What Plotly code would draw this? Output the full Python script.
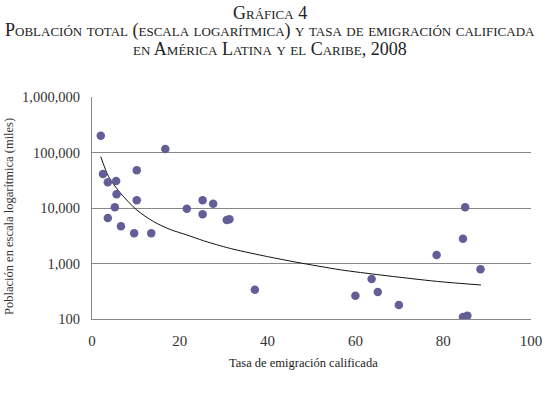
import plotly.graph_objects as go

# Tasa de emigración calificada (%) y población total (miles)
tasa = [2.0, 16.7, 2.5, 3.6, 5.5, 10.2, 5.6, 10.2, 5.2, 21.6, 25.2, 27.6, 25.2, 3.6,
        6.6, 9.6, 13.5, 30.7, 31.3, 37.1, 85.0, 84.5, 78.5, 88.5, 63.7, 60.0, 65.1,
        69.9, 84.5, 85.5]
poblacion = [201000, 116000, 41000, 29000, 30600, 47700, 17700, 13800, 10300, 9700,
             13800, 11900, 7700, 6600, 4700, 3500, 3500, 6100, 6300, 337, 10300, 2800,
             1420, 787, 525, 263, 306, 178, 109, 115]

# Línea de tendencia
tend_x = [2.0, 3.8, 6.4, 10.2, 14.0, 17.8, 21.6, 25.4, 29.2, 32.3, 40.0, 46.7, 56.6,
          65.8, 78.7, 88.6]
tend_y = [84000, 36600, 18900, 9200, 5700, 4100, 3270, 2570, 2090, 1800, 1330, 1050,
          770, 620, 475, 410]

y_ticks = [100, 1000, 10000, 100000, 1000000]
y_tick_text = ["100", "1,000", "10,000", "100,000", "1,000,000"]
x_ticks = [0, 20, 40, 60, 80, 100]

title_lines = ["Gráfica 4",
               "Población total (escala logarítmica) y tasa de emigración calificada",
               "en América Latina y el Caribe, 2008"]
x_title = "Tasa de emigración calificada"
y_title = "Población en escala logarítmica (miles)"

serif = "Liberation Serif"
W, H = 547, 397
L, R, T, B = 92, 16, 97, 78
PW, PH = W - L - R, H - T - B


def px_to_paper_x(px):
    return (px - L) / PW


def px_to_paper_y(py):
    return (H - B - py) / PH


fig = go.Figure()
fig.add_trace(go.Scatter(
    x=tend_x, y=tend_y, mode="lines",
    line=dict(color="#111111", width=1, shape="spline", smoothing=0.8),
    hoverinfo="skip", showlegend=False))
fig.add_trace(go.Scatter(
    x=tasa, y=poblacion, mode="markers",
    marker=dict(color="#625E98", size=8.5, line=dict(width=0)),
    showlegend=False))

annotations = []
for line, cy in zip(title_lines, [13, 31, 49]):
    annotations.append(dict(
        text=line, xref="paper", yref="paper",
        x=px_to_paper_x(270), y=px_to_paper_y(cy),
        xanchor="center", yanchor="middle", showarrow=False,
        font=dict(family=serif, size=18, color="#222222", variant="small-caps")))
annotations.append(dict(
    text=x_title, xref="paper", yref="paper",
    x=px_to_paper_x(303), y=px_to_paper_y(363),
    xanchor="center", yanchor="middle", showarrow=False,
    font=dict(family=serif, size=12.5, color="#222222")))
annotations.append(dict(
    text=y_title, xref="paper", yref="paper", textangle=-90,
    x=px_to_paper_x(9), y=px_to_paper_y(217),
    xanchor="center", yanchor="middle", showarrow=False,
    font=dict(family=serif, size=12.5, color="#333333")))

fig.update_layout(
    width=W, height=H,
    margin=dict(l=L, r=R, t=T, b=B, autoexpand=False),
    paper_bgcolor="white", plot_bgcolor="white",
    annotations=annotations,
    xaxis=dict(
        range=[0, 100], tickvals=x_ticks, showgrid=False, zeroline=False,
        automargin=False,
        showline=True, linecolor="#888888", linewidth=1,
        ticks="outside", ticklen=8, tickcolor="rgba(0,0,0,0)",
        tickfont=dict(family=serif, size=15, color="#333333")),
    yaxis=dict(
        type="log", range=[2, 6], tickvals=y_ticks, ticktext=y_tick_text,
        automargin=False,
        showgrid=True, gridcolor="#888888", gridwidth=1, zeroline=False,
        showline=True, linecolor="#888888", linewidth=1,
        ticks="outside", ticklen=8, tickcolor="rgba(0,0,0,0)",
        tickfont=dict(family=serif, size=14.5, color="#333333")),
)

fig.write_html("out.html", config={"displayModeBar": False},
               post_script="document.body.style.margin='0';")
